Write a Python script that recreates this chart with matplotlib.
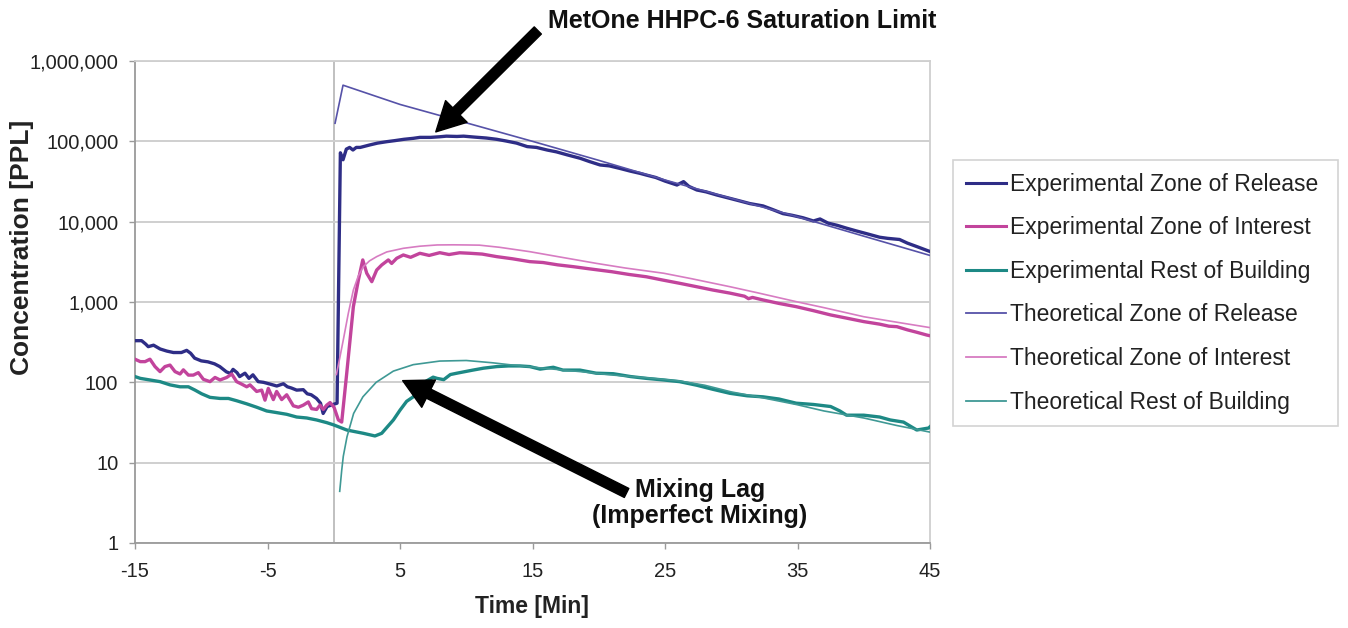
import matplotlib
matplotlib.use("Agg")
import matplotlib.pyplot as plt
from matplotlib.ticker import FuncFormatter, FixedLocator, NullLocator

plt.rcParams["font.family"] = ["Liberation Sans", "DejaVu Sans"]

# Experimental, zone of release
t_exp_rel = [-15, -14.5, -14.2, -14.0, -13.6, -13.1, -12.6, -12.1, -11.5, -11.1, -10.8, -10.5,
             -10.0, -9.5, -9.0, -8.6, -8.1, -7.8, -7.6, -7.3, -7.1, -6.7, -6.4, -6.1, -5.7, -5.3,
             -4.8, -4.3, -3.8, -3.5, -3.2, -2.8, -2.3, -2.0, -1.7, -1.3, -1.0, -0.8, -0.5, -0.2,
             0.25, 0.5, 0.7, 0.95, 1.2, 1.45, 1.7, 2.0, 2.7, 3.3, 4.0, 4.6, 5.3, 6.0, 6.5, 7.3,
             8.0, 8.5, 9.3, 9.8, 10.6, 11.5, 12.3, 13.0, 13.8, 14.6, 15.3, 16.1, 16.8, 17.6, 18.6,
             19.3, 20.1, 20.8, 21.6, 22.4, 23.1, 23.6, 24.3, 25.0, 25.9, 26.4, 26.8, 27.4, 28.1,
             28.9, 29.9, 30.6, 31.4, 32.4, 33.1, 33.9, 34.6, 35.4, 36.2, 36.7, 37.3, 38.0, 38.7,
             39.4, 40.2, 41.2, 41.8, 42.7, 43.3, 44.0, 44.75, 45.0]
c_exp_rel = [330, 330, 300, 278, 290, 260, 245, 235, 235, 250, 230, 200,
             185, 180, 170, 157, 135, 129, 145, 132, 118, 130, 112, 124, 102, 100,
             95, 90, 96, 88, 85, 80, 81, 72, 70, 63, 55, 41, 50, 52,
             55, 72000, 59000, 80000, 84000, 78000, 84000, 84000, 90000, 95000, 99000, 102000, 106000, 109000, 112000, 112000,
             114000, 116000, 115000, 116000, 113000, 110000, 106000, 101000, 95000, 86000, 84000, 78000, 74000, 68000, 61500,
             56000, 50800, 49500, 46000, 42500, 40000, 38000, 35500, 32000, 28600, 31500, 27500, 24800, 23500,
             21500, 19500, 18200, 16800, 15700, 14200, 12600, 12000, 11200, 10200, 10800, 9600, 9000, 8300,
             7700, 7100, 6400, 6200, 6000, 5400, 4900, 4400, 4250]

# Experimental, zone of interest
t_exp_int = [-15, -14.6, -14.24, -13.87, -13.49, -13.11, -12.74, -12.36, -11.98, -11.6, -11.35,
             -10.97, -10.6, -10.22, -9.84, -9.34, -8.96, -8.58, -8.08, -7.7, -7.33, -6.95, -6.57,
             -6.32, -5.82, -5.44, -5.19, -4.94, -4.56, -4.31, -3.93, -3.55, -3.05, -2.67, -2.3,
             -1.92, -1.67, -1.29, -1.04, -0.79, -0.53, -0.28, 0.02, 0.35, 0.6, 0.98, 1.48, 1.86,
             2.19, 2.49, 2.87, 3.24, 3.62, 4.12, 4.37, 4.75, 5.25, 5.8, 6.5, 7.2, 8.0, 8.7, 9.5,
             10.3, 11.2, 12.3, 13.5, 14.8, 15.8, 16.9, 18.1, 19.2, 20.0, 21.0, 22.3, 23.6, 24.8,
             26.1, 27.3, 28.6, 29.9, 31.0, 31.3, 31.6, 32.4, 33.6, 34.9, 36.2, 37.5, 38.7, 40.0,
             41.2, 41.9, 42.5, 43.3, 44.0, 44.75, 45.0]
c_exp_int = [194, 181, 181, 194, 157, 136, 157, 164, 136, 127, 143,
             123, 123, 132, 109, 102, 115, 107, 115, 127, 102, 95, 88,
             93, 77, 80, 60, 84, 61, 77, 61, 70, 51, 49, 52,
             57, 47, 46, 52, 46, 52, 56, 49, 34, 32, 130, 875, 1880,
             3340, 2280, 1790, 2500, 2890, 3340, 3020, 3500, 3850, 3600, 4040, 3800, 4110, 3900, 4100,
             4040, 3950, 3670, 3450, 3180, 3100, 2900, 2750, 2600, 2500, 2380, 2200, 2060, 1880,
             1710, 1560, 1410, 1290, 1180, 1100, 1140, 1060, 960, 875, 780, 690, 630, 570,
             530, 500, 493, 450, 420, 388, 380]

# Experimental, rest of building
t_exp_rest = [-15, -14.6, -13.87, -13.11, -12.36, -11.6, -10.97, -10.47, -9.97, -9.34, -8.58,
              -7.95, -7.33, -6.57, -5.82, -5.06, -4.31, -3.55, -2.8, -2.04, -1.29, -0.53, 0.0,
              0.98, 2.23, 3.11, 3.62, 4.5, 5.0, 5.5, 6.0, 6.5, 7.0, 7.5, 7.8, 8.3, 8.8, 9.3,
              10.5, 11.3, 12.3, 13.2, 14.06, 14.8, 15.57, 16.57, 17.3, 18.58, 19.8, 21.1, 22.4,
              23.6, 24.9, 26.1, 27.4, 28.6, 29.9, 31.2, 32.4, 33.6, 34.9, 36.2, 37.5, 38.2, 38.7,
              40.0, 41.2, 42.0, 43.0, 44.0, 44.9, 45.0]
c_exp_rest = [118, 112, 107, 102, 93, 88, 88, 80, 72, 65, 63,
              63, 59, 54, 49, 44, 42, 40, 37, 36, 34, 31.5, 29.5,
              25.5, 23.2, 21.5, 23.2, 34, 45, 58, 66, 88, 104, 116, 112, 108, 125, 130,
              142, 150, 157, 160, 160, 157, 146, 154, 142, 142, 130, 128, 118,
              112, 107, 102, 92, 82, 73, 68, 66, 62, 55, 53, 50, 44, 39,
              39, 37, 34, 32, 25.5, 27, 28]

# Model predictions
t_th_rel = [0.1, 0.7, 5, 10, 15, 20, 25, 30, 35, 40, 45]
c_th_rel = [168000, 500000, 288000, 170000, 100000, 58000, 33000, 19500, 11500, 6600, 3800]

t_th_int = [0.2, 0.45, 0.72, 1.1, 1.48, 1.85, 2.23, 2.7, 3.24, 4.0, 5.25, 6.5, 7.8, 9.0, 10.0,
            11.0, 12.5, 14.8, 17.0, 19.8, 22.0, 24.9, 27.0, 29.9, 32.0, 34.9, 37.0, 40.0, 42.5, 45.0]
c_th_int = [125, 200, 337, 724, 1410, 2100, 2750, 3250, 3670, 4200, 4660, 4950, 5130, 5150, 5130,
            5100, 4800, 4230, 3650, 3030, 2650, 2280, 1950, 1550, 1300, 1010, 850, 656, 560, 480]

t_th_rest = [0.45, 0.6, 0.72, 1.0, 1.5, 2.2, 3.2, 4.5, 6.0, 8.0, 10.0, 11.0, 12.0, 13.5, 16.0,
             18.6, 21.1, 23.6, 26.1, 28.0, 30.0, 32.0, 34.9, 37.0, 40.0, 42.5, 45.0]
c_th_rest = [4.4, 8.0, 12, 21, 41, 66, 100, 138, 166, 184, 187, 181, 175, 164, 149,
             136, 123, 114, 104, 92, 76, 66, 53, 44, 36, 29, 24]

x_ticks = [-15, -5, 5, 15, 25, 35, 45]
y_ticks = [1, 10, 100, 1000, 10000, 100000, 1000000]

NAVY = "#2e2d86"
MAGENTA = "#c2449c"
TEAL = "#1d8985"

fig = plt.figure(figsize=(13.48, 6.28), dpi=100)
ax = fig.add_axes([135 / 1348, 1 - 543 / 628, 795 / 1348, 482 / 628])

thick = 2.4
thin = 1.2
ax.plot(t_exp_rel, c_exp_rel, color=NAVY, lw=thick, label="Experimental Zone of Release", zorder=4)
ax.plot(t_exp_int, c_exp_int, color=MAGENTA, lw=thick, label="Experimental Zone of Interest", zorder=4)
ax.plot(t_exp_rest, c_exp_rest, color=TEAL, lw=thick, label="Experimental Rest of Building", zorder=4)
ax.plot(t_th_rel, c_th_rel, color="#5652a8", lw=thin, label="Theoretical Zone of Release", zorder=5)
ax.plot(t_th_int, c_th_int, color="#d77cc2", lw=thin, label="Theoretical Zone of Interest", zorder=5)
ax.plot(t_th_rest, c_th_rest, color="#3f9995", lw=thin, label="Theoretical Rest of Building", zorder=5)

ax.set_yscale("log")
ax.set_xlim(-15, 45)
ax.set_ylim(1, 1000000)
ax.xaxis.set_major_locator(FixedLocator(x_ticks))
ax.yaxis.set_major_locator(FixedLocator(y_ticks))
ax.yaxis.set_minor_locator(NullLocator())
ax.yaxis.set_major_formatter(FuncFormatter(lambda v, _: f"{v:,.0f}"))
ax.xaxis.set_major_formatter(FuncFormatter(lambda v, _: f"{v:.0f}"))

ax.grid(axis="y", color="#cfcfcf", lw=1.4, zorder=0)
ax.axvline(0, color="#b5b5b5", lw=1.2, zorder=1)
for side in ("top", "right"):
    ax.spines[side].set_color("#cfcfcf")
    ax.spines[side].set_linewidth(1.3)
for side in ("left", "bottom"):
    ax.spines[side].set_color("#9a9a9a")
    ax.spines[side].set_linewidth(1.3)
ax.tick_params(axis="both", direction="out", length=4, width=1, color="#9a9a9a",
               labelsize=14.5, labelcolor="#222222")
ax.tick_params(axis="y", pad=8)
ax.tick_params(axis="x", pad=10)

fig.text(22 / 1348, 1 - 247 / 628, "Concentration [PPL]", rotation=90, ha="center", va="center",
         fontsize=19, fontweight="bold", color="#222222")
fig.text(532 / 1348, 1 - 607 / 628, "Time [Min]", ha="center", va="center",
         fontsize=16.5, fontweight="bold", color="#222222")

# annotations
fig.text(548 / 1348, 1 - 21 / 628, "MetOne HHPC-6 Saturation Limit", ha="left", va="center",
         fontsize=18, fontweight="bold", color="#111111")
fig.text(700 / 1348, 1 - 503 / 628, "Mixing Lag\n(Imperfect Mixing)", ha="center", va="center",
         fontsize=18, fontweight="bold", color="#111111", linespacing=1.1)

arrow = dict(arrowstyle="simple,head_length=0.95,head_width=1.0,tail_width=0.33",
             mutation_scale=22, color="black", shrinkA=0, shrinkB=0)
ax.annotate("", xy=(7.7, 131000), xytext=(15.4, 2400000), arrowprops=arrow,
            annotation_clip=False, zorder=6)
ax.annotate("", xy=(5.2, 105), xytext=(22.1, 4.2), arrowprops=arrow,
            annotation_clip=False, zorder=6)

handles, labels = ax.get_legend_handles_labels()
leg = fig.legend(handles, labels, loc="upper left",
                 bbox_to_anchor=(953 / 1348, 1 - 423 / 628, 385 / 1348, 263 / 628),
                 mode="expand", fontsize=16.5, frameon=True, fancybox=False,
                 edgecolor="#c8c8c8", borderpad=0.55, labelspacing=0.9,
                 handlelength=1.75, handletextpad=0.2, borderaxespad=0)
leg.get_frame().set_linewidth(1.2)
for txt in leg.get_texts():
    txt.set_color("#222222")
for line in leg.get_lines():
    line.set_linewidth(2.2 if line.get_label().startswith("Exp") else 1.3)

fig.savefig("out.png", dpi=100)
